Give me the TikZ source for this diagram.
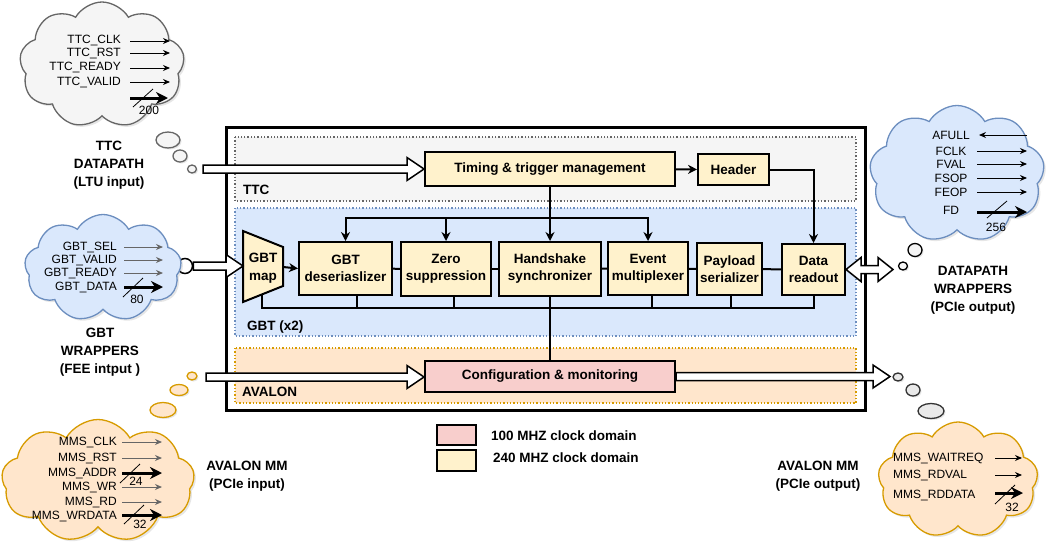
\documentclass[tikz,border=0pt]{standalone}
\usepackage{fontspec}
\setmainfont{Liberation Sans}
\usepackage{xcolor}
\usetikzlibrary{shapes,shapes.symbols,arrows.meta,positioning,calc,shadows}

\definecolor{ttcfill}{HTML}{F5F5F5}
\definecolor{ttcline}{HTML}{666666}
\definecolor{gbtfill}{HTML}{DAE8FC}
\definecolor{gbtline}{HTML}{6C8EBF}
\definecolor{avfill}{HTML}{FFE6CC}
\definecolor{avline}{HTML}{D79B00}
\definecolor{fastfill}{HTML}{FFF2CC}
\definecolor{slowfill}{HTML}{F8CECC}

\begin{document}
\begin{tikzpicture}[x=1pt, y=-1pt,
    blk/.style={draw, line width=2pt, fill=fastfill, align=center, inner sep=0pt, font=\bfseries\fontsize{13.5}{17}\selectfont},
    region/.style={dotted, line width=1.3pt},
    lbl/.style={font=\bfseries\fontsize{13.5}{18}\selectfont, align=center, inner sep=0pt},
    sig/.style={font=\fontsize{12}{14}\selectfont, inner sep=0pt},
    sigarrow/.style={line width=1pt, -{Stealth[length=7pt, width=6pt]}},
    fatarrow/.style={line width=3pt, -{Stealth[length=12pt, width=12pt]}},
    slash/.style={line width=0.8pt},
    cloudbox/.style={cloud, cloud puffs=9, cloud puff arc=120, cloud ignores aspect, draw, line width=1.3pt, inner sep=0pt,
      drop shadow={opacity=0.2, shadow xshift=2pt, shadow yshift=-2pt}},
    bubble/.style={line width=1.3pt, drop shadow={opacity=0.2, shadow xshift=1.5pt, shadow yshift=-1.5pt}},
    link/.style={line width=2pt},
    linkarrow/.style={line width=2pt, -{Stealth[length=9pt, width=9pt]}},
    hollow/.style={line width=1.5pt, fill=white, to path={let \p1=(\tikztostart), \p2=(\tikztotarget) in
      (\x1,\y1+4pt) -- (\x2-17pt,\y1+4pt) -- (\x2-17pt,\y1+11.5pt) -- (\x2,\y1) -- (\x2-17pt,\y1-11.5pt)
      -- (\x2-17pt,\y1-4pt) -- (\x1,\y1-4pt) -- cycle}},
    hollowboth/.style={line width=1.5pt, fill=white, to path={let \p1=(\tikztostart), \p2=(\tikztotarget) in
      (\x1,\y1) -- (\x1+15pt,\y1-12pt) -- (\x1+15pt,\y1-4pt) -- (\x2-15pt,\y1-4pt) -- (\x2-15pt,\y1-12pt) -- (\x2,\y1)
      -- (\x2-15pt,\y1+12pt) -- (\x2-15pt,\y1+4pt) -- (\x1+15pt,\y1+4pt) -- (\x1+15pt,\y1+12pt) -- cycle}}
  ]
    \useasboundingbox (0,0) rectangle (1053,552);

    % Main box and clock regions
    \draw[line width=3pt, fill=white] (226,127) rectangle (865,410);
    \draw[region, fill=ttcfill, draw=ttcline] (235,137) rectangle (856,201);
    \draw[region, fill=gbtfill, draw=gbtline] (235,208) rectangle (856,336);
    \draw[region, fill=avfill, draw=avline] (235,348) rectangle (856,403);
    \node[lbl, anchor=west] (ttcname) at (243,190) {TTC};
    \node[lbl, anchor=west] (gbtname) at (247,327) {GBT (x2)};
    \node[lbl, anchor=west] (avname) at (242,392) {AVALON};

    % Blocks
    \node[blk, minimum width=250pt, minimum height=34pt] (timing) at (550,169) {Timing \& trigger management};
    \node[blk, minimum width=71pt, minimum height=31pt] (header) at (733.5,169.5) {Header};
    \draw[line width=2pt, fill=fastfill] (243,231) -- (283,247) -- (283,286) -- (243,302) -- cycle;
    \node[lbl] (map) at (263,268) {GBT\\map};
    \coordinate (mapE) at (283,267);
    \coordinate (mapS) at (262,294);
    \node[blk, minimum width=93pt, minimum height=53pt] (deser) at (345.5,268.5) {GBT\\deseriaslizer};
    \node[blk, minimum width=90pt, minimum height=54pt] (zero) at (446,269) {Zero\\suppression};
    \node[blk, minimum width=102pt, minimum height=54pt] (hand) at (550,269) {Handshake\\synchronizer};
    \node[blk, minimum width=80pt, minimum height=53pt] (event) at (648,268.5) {Event\\multiplexer};
    \node[blk, minimum width=65pt, minimum height=52pt] (payload) at (729.5,269) {Payload\\serializer};
    \node[blk, minimum width=63pt, minimum height=51pt] (readout) at (813.5,269.5) {Data\\readout};
    \node[blk, fill=slowfill, minimum width=250pt, minimum height=31pt] (config) at (550,376.5) {Configuration \& monitoring};

    % Control lines
    \draw[linkarrow] (timing) -- (header);
    \draw[linkarrow] (header.east) -| (readout.north);
    \draw[linkarrow, line width=2.5pt] (timing.south) -- (hand.north);
    \coordinate (topbus) at (550,218);
    \draw[linkarrow] (topbus) -| (deser.north);
    \draw[linkarrow] (topbus) -| (event.north);
    \draw[linkarrow] (topbus -| zero.north) -- (zero.north);
    \draw[linkarrow] (mapE) -- (deser.west);
    \draw[link] (deser) -- (zero);
    \draw[link] (zero) -- (hand);
    \draw[link] (hand) -- (event);
    \draw[link] (event) -- (payload);
    \draw[link] (payload) -- (readout);

    % Bottom bus
    \coordinate (botbus) at (550,308);
    \draw[link] (mapS) |- (botbus) -| (readout.south);
    \draw[link] ([xshift=11pt]deser.south) -- ([xshift=11pt]deser.south |- botbus);
    \draw[link] ([xshift=8pt]zero.south) -- ([xshift=8pt]zero.south |- botbus);
    \draw[link] ([xshift=4pt]event.south) -- ([xshift=4pt]event.south |- botbus);
    \draw[link] ([xshift=1.5pt]payload.south) -- ([xshift=1.5pt]payload.south |- botbus);
    \draw[link, line width=2.5pt] (hand.south) -- (config.north);

    % Hollow data arrows
    \coordinate (ttcin) at (203,169);
    \coordinate (avin) at (206,377);
    \coordinate (avout) at (890,377);
    \coordinate (dpout) at (893,269.5);
    \node[circle, draw, line width=1.5pt, fill=white, minimum size=15pt, inner sep=0pt] (gbtdot) at (185,266) {};
    \draw[hollow] (ttcin) to (timing.west);
    \draw[hollow] (gbtdot.east) to (243,266);
    \draw[hollow] (avin) to (config.west);
    \draw[hollow] (config.east) to (avout);
    \draw[hollowboth] (readout.east) to (dpout);

    % TTC cloud
    \node[cloudbox, fill=ttcfill, draw=ttcline, minimum width=165pt, minimum height=126pt] (ttccloud) at (102,65) {};
    \foreach \name/\y [count=\i] in {TTC\_CLK/41, TTC\_RST/53, TTC\_READY/68, TTC\_VALID/82} {
        \node[sig, anchor=east] (ttc\i) at (121,\y) {\name};
        \draw[sigarrow] (130,\y) -- (170,\y);
    }
    \draw[fatarrow] (130,98) -- (168,98);
    \draw[slash] (133,107) -- (153,89);
    \node[sig] (ttcwidth) at (149,110) {200};
    \draw[bubble, fill=ttcfill, draw=ttcline] (168,140) ellipse [x radius=12, y radius=8];
    \draw[bubble, fill=ttcfill, draw=ttcline] (180,156) ellipse [x radius=7, y radius=6];
    \draw[bubble, fill=ttcfill, draw=ttcline] (192,169) ellipse [x radius=4.5, y radius=4];
    \node[lbl] (ttclabel) at (109,165) {TTC\\DATAPATH\\(LTU input)};

    % GBT cloud
    \node[cloudbox, fill=gbtfill, draw=gbtline, minimum width=157pt, minimum height=107pt] (gbtcloud) at (103,268) {};
    \foreach \name/\y [count=\i] in {GBT\_SEL/247, GBT\_VALID/260, GBT\_READY/273, GBT\_DATA/287} {
        \node[sig, anchor=east] (gbt\i) at (117,\y) {\name};
    }
    \foreach \y in {247,260,273} {
        \draw[sigarrow, draw=ttcline] (124,\y) -- (163,\y);
    }
    \draw[fatarrow] (124,287) -- (163,287);
    \draw[slash] (123,297) -- (143,278);
    \node[sig] (gbtwidth) at (137,299) {80};
    \node[lbl] (gbtlabel) at (100,352) {GBT\\WRAPPERS\\(FEE intput )};

    % Datapath cloud
    \node[cloudbox, fill=gbtfill, draw=gbtline, minimum width=175pt, minimum height=137pt] (dpcloud) at (957,174) {};
    \foreach \name/\y [count=\i] in {AFULL/135, FCLK/151, FVAL/164, FSOP/178, FEOP/192, FD/210} {
        \node[sig] (dp\i) at (951,\y) {\name};
    }
    \draw[sigarrow] (1027,135) -- (979,135);
    \foreach \y in {151,164,178,192} {
        \draw[sigarrow] (977,\y) -- (1027,\y);
    }
    \draw[fatarrow] (977,212) -- (1027,212);
    \draw[slash] (987,218) -- (1007,201);
    \node[sig] (dpwidth) at (996,227) {256};
    \draw[bubble, fill=ttcfill, draw=black] (915,250) ellipse [x radius=7, y radius=6.5];
    \draw[bubble, fill=ttcfill, draw=black] (903,266) ellipse [x radius=4.5, y radius=4];
    \node[lbl] (dplabel) at (973,290) {DATAPATH\\WRAPPERS\\(PCIe output)};

    % Avalon input cloud
    \node[cloudbox, fill=avfill, draw=avline, minimum width=193pt, minimum height=123pt] (avincloud) at (98,481) {};
    \foreach \name/\y [count=\i] in {MMS\_CLK/442, MMS\_RST/458, MMS\_ADDR/473, MMS\_WR/487, MMS\_RD/502, MMS\_WRDATA/516} {
        \node[sig, anchor=east] (avin\i) at (117,\y) {\name};
    }
    \foreach \y in {442,458,487,502} {
        \draw[sigarrow, draw=ttcline] (122,\y) -- (162,\y);
    }
    \draw[fatarrow] (122,473) -- (162,473);
    \draw[slash] (120,483) -- (140,464);
    \node[sig] (addrwidth) at (136,481) {24};
    \draw[fatarrow] (122,515) -- (162,515);
    \draw[slash] (124,524) -- (144,505);
    \node[sig] (wrwidth) at (140,524) {32};
    \draw[bubble, fill=avfill, draw=avline] (192,376) ellipse [x radius=5, y radius=4];
    \draw[bubble, fill=avfill, draw=avline] (179,390) ellipse [x radius=9, y radius=5.5];
    \draw[bubble, fill=avfill, draw=avline] (163,410) ellipse [x radius=13, y radius=7.5];
    \node[lbl] (avinlabel) at (247,476) {AVALON MM\\(PCIe input)};

    % Avalon output cloud
    \node[cloudbox, fill=avfill, draw=avline, minimum width=160pt, minimum height=116pt] (avoutcloud) at (958,480) {};
    \foreach \name/\y [count=\i] in {MMS\_WAITREQ/458, MMS\_RDVAL/475, MMS\_RDDATA/495} {
        \node[sig, anchor=west] (avout\i) at (893,\y) {\name};
    }
    \draw[sigarrow] (995,458) -- (1022,458);
    \draw[sigarrow] (995,475) -- (1022,475);
    \draw[fatarrow] (995,493) -- (1023,493);
    \draw[slash] (995,504) -- (1015,485);
    \node[sig] (rdwidth) at (1012,507) {32};
    \draw[bubble, fill=ttcfill!90!gray, draw=black!80] (898,377) ellipse [x radius=5, y radius=4];
    \draw[bubble, fill=ttcfill!90!gray, draw=black!80] (913,390) ellipse [x radius=7, y radius=6];
    \draw[bubble, fill=ttcfill!90!gray, draw=black!80] (931,411) ellipse [x radius=13, y radius=7.5];
    \node[lbl] (avoutlabel) at (818,476) {AVALON MM\\(PCIe output)};

    % Legend
    \node[draw, line width=2pt, fill=slowfill, minimum width=39pt, minimum height=20pt, inner sep=0pt] (slowkey) at (456.5,435) {};
    \node[draw, line width=2pt, fill=fastfill, minimum width=39pt, minimum height=21pt, inner sep=0pt] (fastkey) at (456.5,460.5) {};
    \node[lbl, anchor=west] (slowtext) at (491,436) {100 MHZ clock domain};
    \node[lbl, anchor=west] (fasttext) at (493,458) {240 MHZ clock domain};
\end{tikzpicture}
\end{document}
